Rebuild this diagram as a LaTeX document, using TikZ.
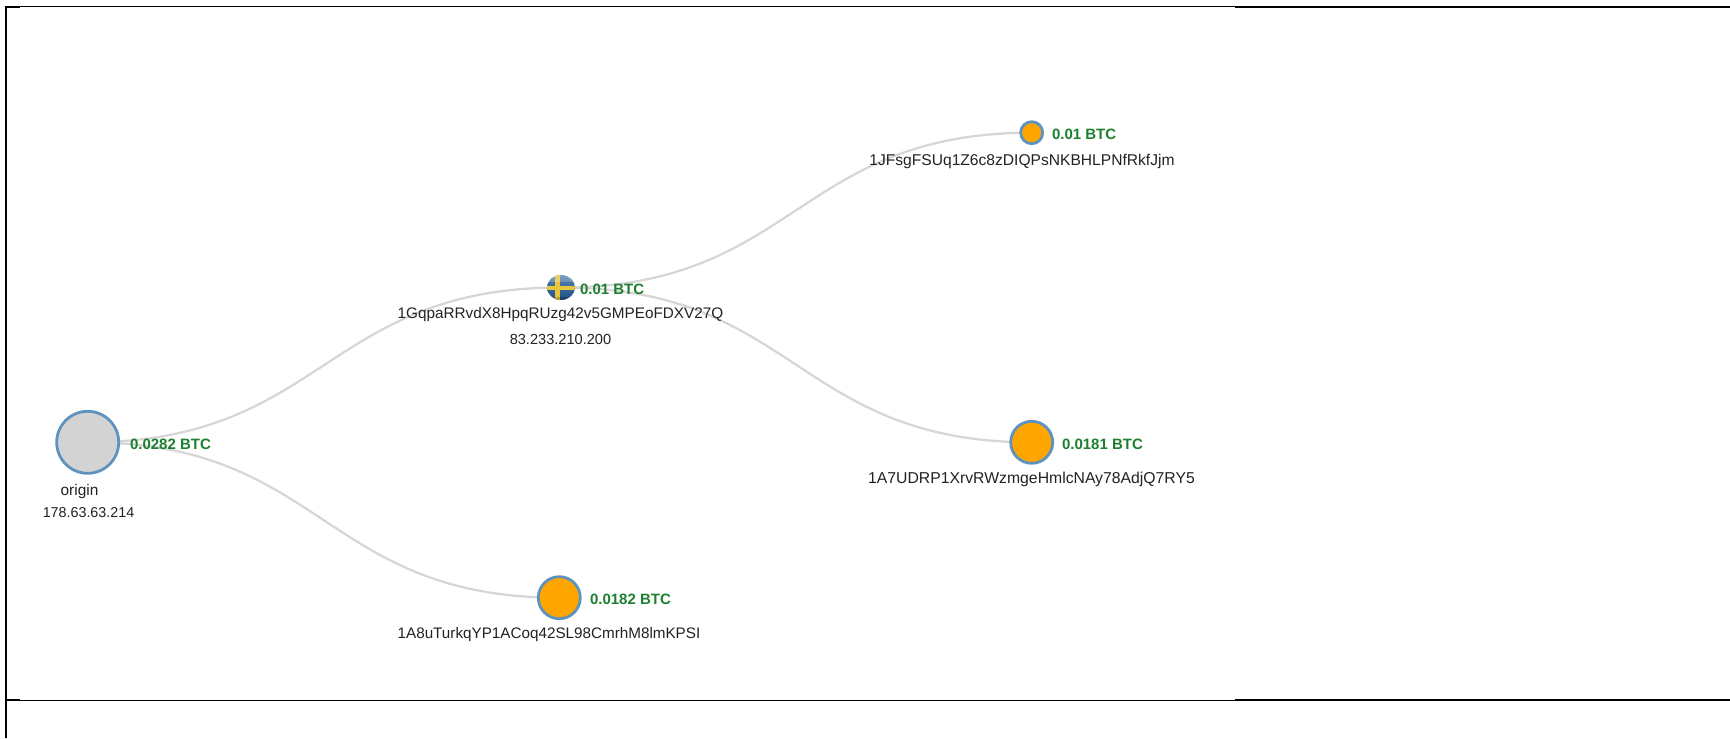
\documentclass[tikz,border=0pt]{standalone}
\usepackage{fontspec}
\setmainfont{Liberation Sans}
\usetikzlibrary{calc,backgrounds,shapes.geometric}
\definecolor{edgegray}{HTML}{D6D6D6}
\definecolor{steel}{HTML}{5F93BF}
\definecolor{btcgreen}{HTML}{1C8030}
\definecolor{addr}{HTML}{222222}
\definecolor{flagblue}{HTML}{1F5C99}
\definecolor{flagyellow}{HTML}{E6C63C}
\definecolor{nodeorange}{HTML}{FFA500}
\definecolor{nodegray}{HTML}{D3D3D3}
\newcommand{\addrfont}[1]{\fontsize{#1}{9}\selectfont}
\tikzset{
  every node/.style={inner sep=0pt,outer sep=0pt},
  wallet/.style={circle,draw=steel,line width=1.4pt,fill=#1},
  btc/.style={anchor=west,text=btcgreen,font=\fontsize{7.5}{9}\selectfont\bfseries},
  addrtext/.style={text=addr,font=\addrfont{#1}},
  linkline/.style={draw=edgegray,line width=1.1pt},
}
\begin{document}
\begin{tikzpicture}[x=0.5pt,y=-0.5pt]
\useasboundingbox (0,0) rectangle (1730,739);
% frame
\fill[black] (5,6) rectangle (7,738);
\fill[black] (5,6) rectangle (1730,7);
\fill[black] (5,6) rectangle (20,8);
\fill[black] (1235,6) rectangle (1730,8);
\fill[black] (5,700) rectangle (1730,701);
\fill[black] (5,699) rectangle (20,701);
\fill[black] (1235,699) rectangle (1730,701);
% nodes
\node[wallet=nodegray,minimum size=31pt] (origin) at (87.7,442.3) {};
\node[wallet=nodeorange,minimum size=11pt] (n3) at (1031.7,132.7) {};
\node[wallet=nodeorange,minimum size=21pt] (n4) at (1031.7,442.3) {};
\node[wallet=nodeorange,minimum size=21pt] (n2) at (559.3,597.7) {};
\node[ellipse,minimum width=14pt,minimum height=12.5pt,path picture={
    \shade[top color=flagblue!75!white,bottom color=flagblue!85!black] (path picture bounding box.south west) rectangle (path picture bounding box.north east);
    \fill[flagyellow] ($(path picture bounding box.west)+(0,-2)$) rectangle ($(path picture bounding box.east)+(0,2.5)$);
    \fill[flagyellow] ($(path picture bounding box.north)+(-6,0)$) rectangle ($(path picture bounding box.south)+(-1,0)$);
    \fill[black,opacity=0.2] ($(path picture bounding box.south west)+(0,-3)$) rectangle (path picture bounding box.south east);
    \fill[white,opacity=0.2] (path picture bounding box.north west) rectangle ($(path picture bounding box.east)+(0,-6)$);
}] (n1) at (561,287.5) {};
% labels
\node[btc] (l0) at (130,444) {0.0282 BTC};
\node[btc] (l1) at (580,289) {0.01 BTC};
\node[btc] (l2) at (590,599) {0.0182 BTC};
\node[btc] (l3) at (1052,134) {0.01 BTC};
\node[btc] (l4) at (1062,444) {0.0181 BTC};
\node[addrtext=7.7] (t0a) at (79.5,492) {origin};
\node[addrtext=7.15] (t0b) at (88.5,513) {178.63.63.214};
\node[addrtext=7.65] (t1a) at (560.5,315) {1GqpaRRvdX8HpqRUzg42v5GMPEoFDXV27Q};
\node[addrtext=7.3] (t1b) at (560.5,339) {83.233.210.200};
\node[addrtext=7.62] (t2) at (549,635) {1A8uTurkqYP1ACoq42SL98CmrhM8lmKPSI};
\node[addrtext=7.8] (t3) at (1022,161.5) {1JFsgFSUq1Z6c8zDIQPsNKBHLPNfRkfJjm};
\node[addrtext=7.88] (t4) at (1031.5,479) {1A7UDRP1XrvRWzmgeHmlcNAy78AdjQ7RY5};
% links
\begin{scope}[on background layer]
\fill[white] (0,0) rectangle (1730,739);
\draw[linkline] (origin.center) .. controls ($(origin.center)+(236,0)$) and ($(n1.center)+(-236,0)$) .. (n1.center);
\draw[linkline] (origin.center) .. controls ($(origin.center)+(236,0)$) and ($(n2.center)+(-236,0)$) .. (n2.center);
\draw[linkline] (n1.center) .. controls ($(n1.center)+(235,0)$) and ($(n3.center)+(-235,0)$) .. (n3.center);
\draw[linkline] (n1.center) .. controls ($(n1.center)+(235,0)$) and ($(n4.center)+(-235,0)$) .. (n4.center);
\end{scope}
\end{tikzpicture}
\end{document}
